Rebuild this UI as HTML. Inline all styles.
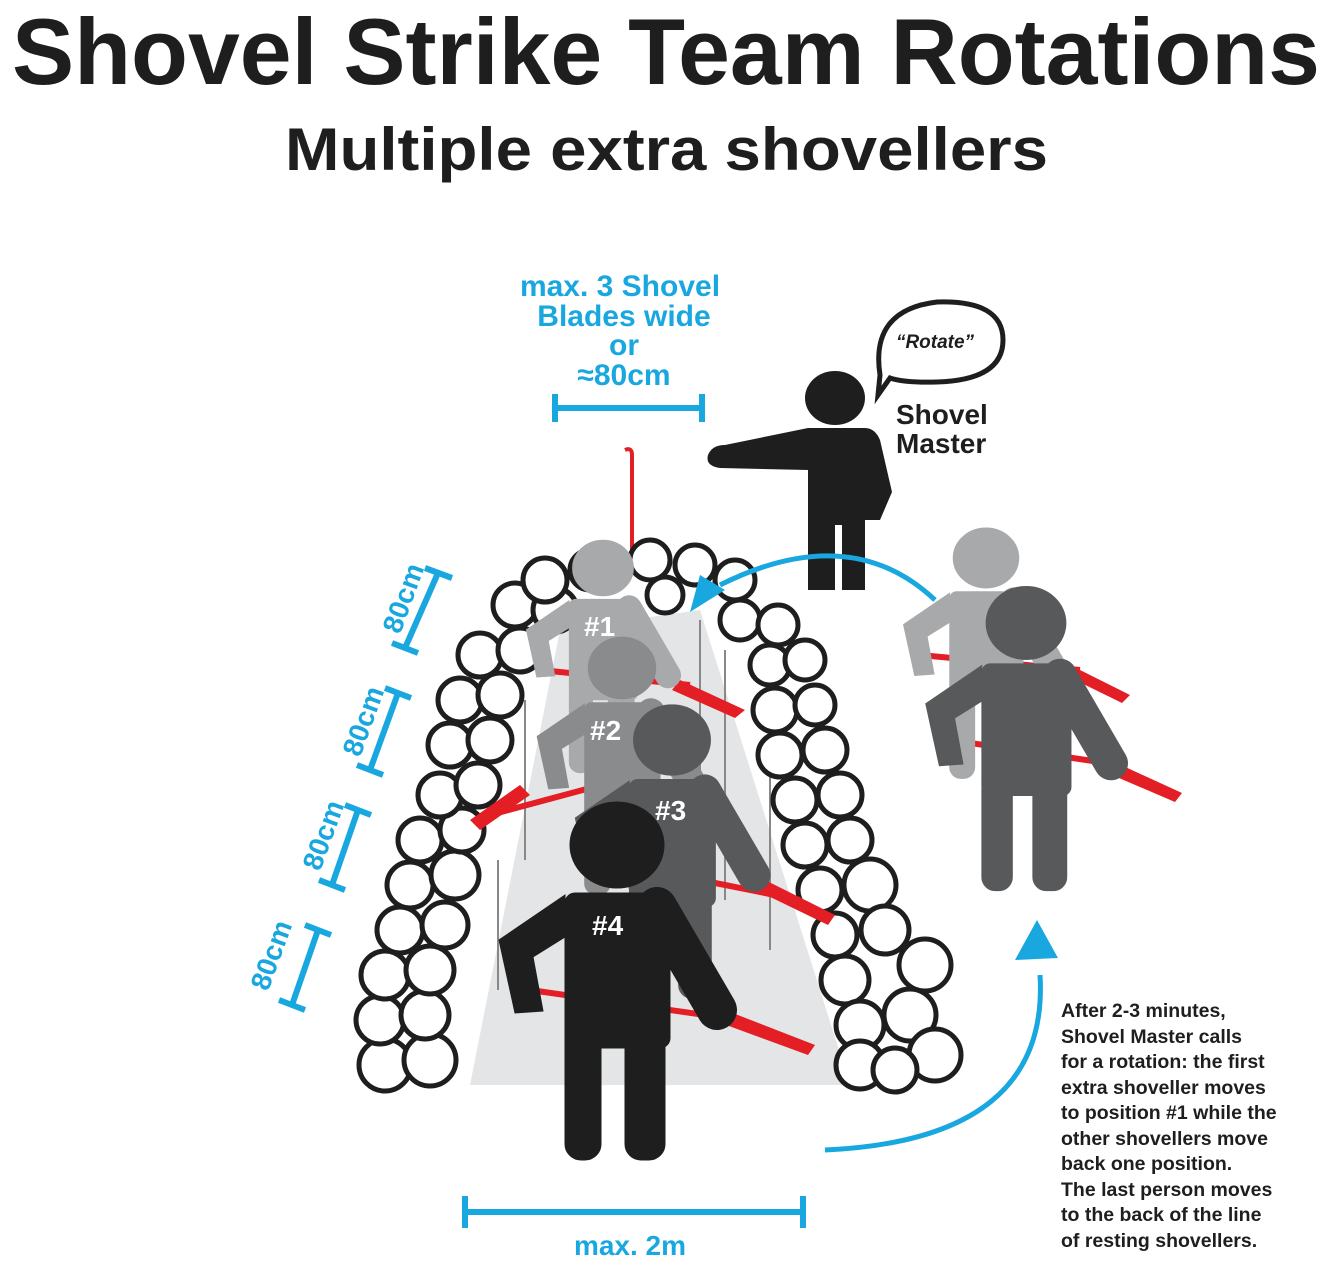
<!DOCTYPE html>
<html><head><meta charset="utf-8"><style>
html,body{margin:0;padding:0;background:#fff}
svg{display:block}
text{font-family:"Liberation Sans",sans-serif;font-weight:bold}
</style></head><body>
<svg width="1335" height="1278" viewBox="0 0 1335 1278" xmlns="http://www.w3.org/2000/svg">
<defs>
<g id="fig">
<ellipse cx="0" cy="0" rx="47" ry="43"/>
<rect x="-52" y="48" width="105" height="155" rx="10"/>
<rect x="-52" y="180" width="36" height="135" rx="16"/>
<rect x="8" y="180" width="40" height="135" rx="16"/>
<polygon points="-52,50 -118,95 -102,168 -74,166 -84,112 -52,92"/>
<line x1="40" y1="62" x2="100" y2="165" stroke-width="40" stroke-linecap="round" stroke="inherit"/>
</g>
</defs>
<text x="12" y="84" font-size="94" fill="#1e1e1e" textLength="1308" lengthAdjust="spacingAndGlyphs">Shovel Strike Team Rotations</text>
<text x="285" y="170" font-size="60" fill="#1e1e1e" textLength="763" lengthAdjust="spacingAndGlyphs">Multiple extra shovellers</text>

<g fill="#19a7e0" font-size="30" text-anchor="middle">
<text x="620" y="296">max. 3 Shovel</text>
<text x="624" y="326">Blades wide</text>
<text x="624" y="355">or</text>
<text x="624" y="385">≈80cm</text>
</g>
<g stroke="#19a7e0" stroke-width="6" fill="none">
<line x1="555" y1="408" x2="702" y2="408"/><line x1="555" y1="394" x2="555" y2="422"/><line x1="702" y1="394" x2="702" y2="422"/>
<line x1="465" y1="1212" x2="803" y2="1212"/><line x1="465" y1="1196" x2="465" y2="1228"/><line x1="803" y1="1196" x2="803" y2="1228"/>
<line x1="438" y1="573" x2="405" y2="648"/><line x1="425" y1="568" x2="452" y2="578"/><line x1="392" y1="643" x2="418" y2="653"/>
<line x1="398" y1="693" x2="370" y2="770"/><line x1="385" y1="688" x2="411" y2="698"/><line x1="357" y1="765" x2="383" y2="775"/>
<line x1="358" y1="810" x2="332" y2="885"/><line x1="345" y1="805" x2="371" y2="815"/><line x1="319" y1="880" x2="345" y2="890"/>
<line x1="318" y1="930" x2="292" y2="1005"/><line x1="305" y1="925" x2="331" y2="935"/><line x1="279" y1="1000" x2="305" y2="1010"/>
</g>
<g fill="#19a7e0" font-size="28">
<text transform="translate(400,635) rotate(-70)">80cm</text>
<text transform="translate(360,758) rotate(-70)">80cm</text>
<text transform="translate(320,872) rotate(-70)">80cm</text>
<text transform="translate(268,992) rotate(-70)">80cm</text>
<text x="630" y="1255" text-anchor="middle">max. 2m</text>
</g>

<path d="M880,375 Q870,310 937,302 Q1003,300 1003,340 Q1003,380 937,382 Q905,383 890,378 L878,395 Z" fill="#fff" stroke="#1e1e1e" stroke-width="5"/>
<text x="935" y="348" font-size="19" font-style="italic" text-anchor="middle" fill="#1e1e1e">“Rotate”</text>
<g fill="#1e1e1e" font-size="28"><text x="896" y="424">Shovel</text><text x="896" y="453">Master</text></g>

<polygon points="470,1085 560,630 700,610 850,1085" fill="#e4e5e7"/>
<g stroke="#888" stroke-width="2">
<line x1="525" y1="700" x2="525" y2="860"/><line x1="498" y1="860" x2="498" y2="990"/><line x1="700" y1="620" x2="700" y2="780"/><line x1="725" y1="650" x2="725" y2="900"/><line x1="770" y1="760" x2="770" y2="950"/>
</g>
<path d="M632,560 L632,455 Q632,447 625,450" stroke="#e31e24" stroke-width="4" fill="none"/>

<g fill="#fff" stroke="#1e1e1e" stroke-width="5">
<circle cx="385" cy="1065" r="26"/><circle cx="430" cy="1060" r="26"/><circle cx="380" cy="1020" r="24"/><circle cx="425" cy="1015" r="24"/>
<circle cx="385" cy="975" r="24"/><circle cx="430" cy="970" r="24"/><circle cx="400" cy="930" r="23"/><circle cx="445" cy="925" r="23"/>
<circle cx="410" cy="885" r="23"/><circle cx="455" cy="875" r="24"/><circle cx="420" cy="840" r="22"/><circle cx="462" cy="830" r="22"/>
<circle cx="440" cy="795" r="22"/><circle cx="478" cy="785" r="22"/><circle cx="450" cy="745" r="22"/><circle cx="490" cy="740" r="22"/>
<circle cx="460" cy="700" r="22"/><circle cx="500" cy="695" r="22"/><circle cx="480" cy="655" r="22"/><circle cx="520" cy="650" r="22"/>
<circle cx="515" cy="605" r="22"/><circle cx="555" cy="610" r="22"/><circle cx="545" cy="580" r="22"/><circle cx="590" cy="570" r="20"/>
<circle cx="650" cy="560" r="20"/><circle cx="695" cy="565" r="20"/><circle cx="735" cy="580" r="20"/><circle cx="665" cy="595" r="18"/>
<circle cx="740" cy="620" r="20"/><circle cx="778" cy="625" r="20"/><circle cx="770" cy="665" r="20"/><circle cx="805" cy="660" r="20"/>
<circle cx="775" cy="710" r="22"/><circle cx="815" cy="705" r="20"/><circle cx="780" cy="755" r="22"/><circle cx="825" cy="750" r="22"/>
<circle cx="795" cy="800" r="22"/><circle cx="840" cy="795" r="22"/><circle cx="805" cy="845" r="22"/><circle cx="850" cy="840" r="22"/>
<circle cx="820" cy="890" r="22"/><circle cx="870" cy="885" r="26"/><circle cx="835" cy="935" r="22"/><circle cx="885" cy="930" r="24"/>
<circle cx="845" cy="980" r="24"/><circle cx="925" cy="965" r="26"/><circle cx="860" cy="1025" r="24"/><circle cx="910" cy="1015" r="26"/>
<circle cx="860" cy="1065" r="24"/><circle cx="935" cy="1055" r="26"/><circle cx="895" cy="1070" r="22"/>
</g>

<g stroke="#e31e24" stroke-width="6" fill="none">
<line x1="540" y1="670" x2="690" y2="685"/><line x1="490" y1="815" x2="620" y2="780"/>
<line x1="700" y1="880" x2="800" y2="900"/><line x1="530" y1="990" x2="740" y2="1020"/>
<line x1="920" y1="655" x2="1080" y2="670"/><line x1="950" y1="740" x2="1120" y2="765"/>
</g>
<g fill="#e31e24">
<polygon points="680,680 745,710 735,718 672,690"/><polygon points="470,820 520,785 530,795 480,830"/>
<polygon points="765,880 835,915 828,925 760,892"/><polygon points="725,1010 815,1045 808,1055 718,1022"/>
<polygon points="1070,665 1130,695 1122,703 1065,675"/><polygon points="1110,760 1182,793 1175,802 1105,772"/>
</g>

<use href="#fig" transform="translate(603,568) scale(0.65)" fill="#a8a9ab" stroke="#a8a9ab"/>
<use href="#fig" transform="translate(622,668) scale(0.72)" fill="#8a8b8d" stroke="#8a8b8d"/>
<use href="#fig" transform="translate(672,740) scale(0.82)" fill="#58595b" stroke="#58595b"/>
<use href="#fig" transform="translate(617,845) scale(1)" fill="#1e1e1e" stroke="#1e1e1e"/>
<use href="#fig" transform="translate(986,558) scale(0.7)" fill="#a8a9ab" stroke="#a8a9ab"/>
<use href="#fig" transform="translate(1026,623) scale(0.85)" fill="#58595b" stroke="#58595b"/>
<g fill="#fff" font-size="28">
<text x="584" y="636">#1</text><text x="590" y="740">#2</text><text x="655" y="820">#3</text><text x="592" y="935">#4</text>
</g>

<g fill="#1e1e1e">
<ellipse cx="835" cy="398" rx="30" ry="27"/>
<path d="M808,428 L865,428 Q875,428 880,440 L892,492 L880,520 L865,520 L865,590 L842,590 L842,525 L835,525 L835,590 L808,590 L808,470 L720,468 Q705,466 708,455 Q712,445 725,445 Z"/>
</g>

<g stroke="#19a7e0" stroke-width="5" fill="none">
<path d="M935,600 Q850,520 720,585"/>
<path d="M825,1150 Q1050,1140 1040,975"/>
</g>
<polygon points="690,612 700,575 725,590" fill="#19a7e0"/>
<polygon points="1015,960 1037,920 1058,958" fill="#19a7e0"/>

<g fill="#1e1e1e" font-size="19.5">
<text x="1061" y="1017">After 2-3 minutes,</text>
<text x="1061" y="1043">Shovel Master calls</text>
<text x="1061" y="1068">for a rotation: the first</text>
<text x="1061" y="1094">extra shoveller moves</text>
<text x="1061" y="1119">to position #1 while the</text>
<text x="1061" y="1145">other shovellers move</text>
<text x="1061" y="1170">back one position.</text>
<text x="1061" y="1196">The last person moves</text>
<text x="1061" y="1221">to the back of the line</text>
<text x="1061" y="1247">of resting shovellers.</text>
</g>
</svg>
</body></html>
